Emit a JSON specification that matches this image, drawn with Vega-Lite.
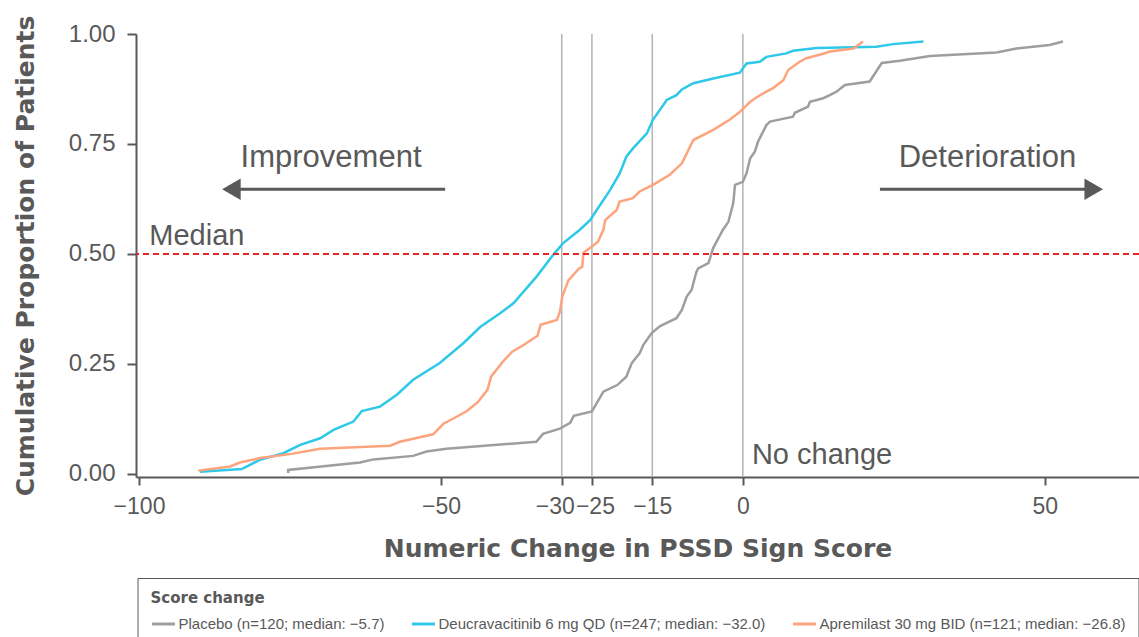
{
  "$schema": "https://vega.github.io/schema/vega-lite/v6.json",
  "width": 1003,
  "height": 443,
  "autosize": {"type": "none"},
  "padding": {"left": 136, "top": 34, "right": 0, "bottom": 160},
  "background": "white",
  "config": {
    "view": {"stroke": null},
    "axis": {
      "grid": false,
      "domainColor": "#595959",
      "domainWidth": 2,
      "tickColor": "#595959",
      "tickWidth": 2,
      "labelFont": "Liberation Sans",
      "labelFontSize": 24,
      "labelColor": "#595959",
      "labelFlush": false,
      "labelOverlap": false,
      "titleFont": "DejaVu Sans",
      "titleFontWeight": "bold",
      "titleFontSize": 25,
      "titleColor": "#595959"
    },
    "axisX": {
      "tickSize": 8,
      "labelPadding": 10,
      "titlePadding": 18,
      "labelFontSize": 23,
      "labelOffset": {"condition": [{"test": "datum.value == -30", "value": -7}, {"test": "datum.value == -25", "value": 3}], "value": 0}
    },
    "axisY": {"tickSize": 9, "labelPadding": 12, "titlePadding": 30}
  },
  "datasets": {
    "vlines": [{"x": -30}, {"x": -25}, {"x": -15}, {"x": 0}],
    "median": [{"y": 0.5}],
    "arrows": [
      {"dir": "Improvement", "x": -49.3, "x2": -84.7, "y": 0.647},
      {"dir": "Deterioration", "x": 22.7, "x2": 58.1, "y": 0.647}
    ],
    "bigtext": [
      {"text": "Improvement", "x": -68.2, "y": 0.698},
      {"text": "Deterioration", "x": 40.5, "y": 0.698}
    ],
    "smalltext": [
      {"text": "Median", "x": -98.3, "y": 0.52},
      {"text": "No change", "x": 1.5, "y": 0.023}
    ],
    "curves": [
      {"s": "Placebo (n=120; median: −5.7)", "i": 0, "x": -75.3, "y": 0.002},
      {"s": "Placebo (n=120; median: −5.7)", "i": 1, "x": -75.3, "y": 0.009},
      {"s": "Placebo (n=120; median: −5.7)", "i": 2, "x": -63.4, "y": 0.026},
      {"s": "Placebo (n=120; median: −5.7)", "i": 3, "x": -61.2, "y": 0.033},
      {"s": "Placebo (n=120; median: −5.7)", "i": 4, "x": -54.6, "y": 0.041},
      {"s": "Placebo (n=120; median: −5.7)", "i": 5, "x": -52.4, "y": 0.051},
      {"s": "Placebo (n=120; median: −5.7)", "i": 6, "x": -49.1, "y": 0.057},
      {"s": "Placebo (n=120; median: −5.7)", "i": 7, "x": -34.2, "y": 0.073},
      {"s": "Placebo (n=120; median: −5.7)", "i": 8, "x": -33.1, "y": 0.091},
      {"s": "Placebo (n=120; median: −5.7)", "i": 9, "x": -30.3, "y": 0.103},
      {"s": "Placebo (n=120; median: −5.7)", "i": 10, "x": -28.6, "y": 0.116},
      {"s": "Placebo (n=120; median: −5.7)", "i": 11, "x": -28.0, "y": 0.132},
      {"s": "Placebo (n=120; median: −5.7)", "i": 12, "x": -25.0, "y": 0.142},
      {"s": "Placebo (n=120; median: −5.7)", "i": 13, "x": -24.2, "y": 0.161},
      {"s": "Placebo (n=120; median: −5.7)", "i": 14, "x": -23.1, "y": 0.187},
      {"s": "Placebo (n=120; median: −5.7)", "i": 15, "x": -20.8, "y": 0.202},
      {"s": "Placebo (n=120; median: −5.7)", "i": 16, "x": -19.3, "y": 0.221},
      {"s": "Placebo (n=120; median: −5.7)", "i": 17, "x": -18.4, "y": 0.252},
      {"s": "Placebo (n=120; median: −5.7)", "i": 18, "x": -17.1, "y": 0.274},
      {"s": "Placebo (n=120; median: −5.7)", "i": 19, "x": -16.5, "y": 0.293},
      {"s": "Placebo (n=120; median: −5.7)", "i": 20, "x": -15.1, "y": 0.320},
      {"s": "Placebo (n=120; median: −5.7)", "i": 21, "x": -13.7, "y": 0.336},
      {"s": "Placebo (n=120; median: −5.7)", "i": 22, "x": -11.0, "y": 0.354},
      {"s": "Placebo (n=120; median: −5.7)", "i": 23, "x": -10.1, "y": 0.373},
      {"s": "Placebo (n=120; median: −5.7)", "i": 24, "x": -9.3, "y": 0.403},
      {"s": "Placebo (n=120; median: −5.7)", "i": 25, "x": -8.5, "y": 0.418},
      {"s": "Placebo (n=120; median: −5.7)", "i": 26, "x": -7.7, "y": 0.459},
      {"s": "Placebo (n=120; median: −5.7)", "i": 27, "x": -7.4, "y": 0.467},
      {"s": "Placebo (n=120; median: −5.7)", "i": 28, "x": -5.7, "y": 0.479},
      {"s": "Placebo (n=120; median: −5.7)", "i": 29, "x": -4.9, "y": 0.514},
      {"s": "Placebo (n=120; median: −5.7)", "i": 30, "x": -3.3, "y": 0.555},
      {"s": "Placebo (n=120; median: −5.7)", "i": 31, "x": -2.4, "y": 0.573},
      {"s": "Placebo (n=120; median: −5.7)", "i": 32, "x": -1.6, "y": 0.615},
      {"s": "Placebo (n=120; median: −5.7)", "i": 33, "x": -1.3, "y": 0.657},
      {"s": "Placebo (n=120; median: −5.7)", "i": 34, "x": 0.0, "y": 0.664},
      {"s": "Placebo (n=120; median: −5.7)", "i": 35, "x": 0.6, "y": 0.683},
      {"s": "Placebo (n=120; median: −5.7)", "i": 36, "x": 1.2, "y": 0.717},
      {"s": "Placebo (n=120; median: −5.7)", "i": 37, "x": 2.0, "y": 0.733},
      {"s": "Placebo (n=120; median: −5.7)", "i": 38, "x": 2.5, "y": 0.755},
      {"s": "Placebo (n=120; median: −5.7)", "i": 39, "x": 3.9, "y": 0.793},
      {"s": "Placebo (n=120; median: −5.7)", "i": 40, "x": 4.5, "y": 0.801},
      {"s": "Placebo (n=120; median: −5.7)", "i": 41, "x": 8.3, "y": 0.812},
      {"s": "Placebo (n=120; median: −5.7)", "i": 42, "x": 8.6, "y": 0.821},
      {"s": "Placebo (n=120; median: −5.7)", "i": 43, "x": 10.8, "y": 0.835},
      {"s": "Placebo (n=120; median: −5.7)", "i": 44, "x": 11.1, "y": 0.846},
      {"s": "Placebo (n=120; median: −5.7)", "i": 45, "x": 13.3, "y": 0.854},
      {"s": "Placebo (n=120; median: −5.7)", "i": 46, "x": 14.4, "y": 0.861},
      {"s": "Placebo (n=120; median: −5.7)", "i": 47, "x": 15.5, "y": 0.869},
      {"s": "Placebo (n=120; median: −5.7)", "i": 48, "x": 16.9, "y": 0.884},
      {"s": "Placebo (n=120; median: −5.7)", "i": 49, "x": 21.0, "y": 0.892},
      {"s": "Placebo (n=120; median: −5.7)", "i": 50, "x": 23.0, "y": 0.934},
      {"s": "Placebo (n=120; median: −5.7)", "i": 51, "x": 26.0, "y": 0.939},
      {"s": "Placebo (n=120; median: −5.7)", "i": 52, "x": 31.0, "y": 0.950},
      {"s": "Placebo (n=120; median: −5.7)", "i": 53, "x": 42.0, "y": 0.958},
      {"s": "Placebo (n=120; median: −5.7)", "i": 54, "x": 45.3, "y": 0.967},
      {"s": "Placebo (n=120; median: −5.7)", "i": 55, "x": 50.8, "y": 0.975},
      {"s": "Placebo (n=120; median: −5.7)", "i": 56, "x": 53.0, "y": 0.983},

      {"s": "Deucravacitinib 6 mg QD (n=247; median: −32.0)", "i": 0, "x": -89.9, "y": 0.005},
      {"s": "Deucravacitinib 6 mg QD (n=247; median: −32.0)", "i": 1, "x": -83.0, "y": 0.011},
      {"s": "Deucravacitinib 6 mg QD (n=247; median: −32.0)", "i": 2, "x": -80.0, "y": 0.032},
      {"s": "Deucravacitinib 6 mg QD (n=247; median: −32.0)", "i": 3, "x": -76.1, "y": 0.047},
      {"s": "Deucravacitinib 6 mg QD (n=247; median: −32.0)", "i": 4, "x": -73.3, "y": 0.066},
      {"s": "Deucravacitinib 6 mg QD (n=247; median: −32.0)", "i": 5, "x": -70.0, "y": 0.081},
      {"s": "Deucravacitinib 6 mg QD (n=247; median: −32.0)", "i": 6, "x": -67.8, "y": 0.100},
      {"s": "Deucravacitinib 6 mg QD (n=247; median: −32.0)", "i": 7, "x": -64.5, "y": 0.119},
      {"s": "Deucravacitinib 6 mg QD (n=247; median: −32.0)", "i": 8, "x": -63.1, "y": 0.143},
      {"s": "Deucravacitinib 6 mg QD (n=247; median: −32.0)", "i": 9, "x": -60.1, "y": 0.153},
      {"s": "Deucravacitinib 6 mg QD (n=247; median: −32.0)", "i": 10, "x": -57.3, "y": 0.180},
      {"s": "Deucravacitinib 6 mg QD (n=247; median: −32.0)", "i": 11, "x": -54.6, "y": 0.214},
      {"s": "Deucravacitinib 6 mg QD (n=247; median: −32.0)", "i": 12, "x": -50.2, "y": 0.252},
      {"s": "Deucravacitinib 6 mg QD (n=247; median: −32.0)", "i": 13, "x": -46.3, "y": 0.297},
      {"s": "Deucravacitinib 6 mg QD (n=247; median: −32.0)", "i": 14, "x": -43.5, "y": 0.334},
      {"s": "Deucravacitinib 6 mg QD (n=247; median: −32.0)", "i": 15, "x": -40.2, "y": 0.365},
      {"s": "Deucravacitinib 6 mg QD (n=247; median: −32.0)", "i": 16, "x": -38.0, "y": 0.388},
      {"s": "Deucravacitinib 6 mg QD (n=247; median: −32.0)", "i": 17, "x": -34.2, "y": 0.448},
      {"s": "Deucravacitinib 6 mg QD (n=247; median: −32.0)", "i": 18, "x": -31.4, "y": 0.498},
      {"s": "Deucravacitinib 6 mg QD (n=247; median: −32.0)", "i": 19, "x": -29.8, "y": 0.524},
      {"s": "Deucravacitinib 6 mg QD (n=247; median: −32.0)", "i": 20, "x": -27.0, "y": 0.555},
      {"s": "Deucravacitinib 6 mg QD (n=247; median: −32.0)", "i": 21, "x": -25.3, "y": 0.577},
      {"s": "Deucravacitinib 6 mg QD (n=247; median: −32.0)", "i": 22, "x": -24.2, "y": 0.600},
      {"s": "Deucravacitinib 6 mg QD (n=247; median: −32.0)", "i": 23, "x": -22.0, "y": 0.645},
      {"s": "Deucravacitinib 6 mg QD (n=247; median: −32.0)", "i": 24, "x": -20.4, "y": 0.683},
      {"s": "Deucravacitinib 6 mg QD (n=247; median: −32.0)", "i": 25, "x": -19.3, "y": 0.721},
      {"s": "Deucravacitinib 6 mg QD (n=247; median: −32.0)", "i": 26, "x": -18.2, "y": 0.740},
      {"s": "Deucravacitinib 6 mg QD (n=247; median: −32.0)", "i": 27, "x": -15.9, "y": 0.774},
      {"s": "Deucravacitinib 6 mg QD (n=247; median: −32.0)", "i": 28, "x": -14.9, "y": 0.805},
      {"s": "Deucravacitinib 6 mg QD (n=247; median: −32.0)", "i": 29, "x": -12.6, "y": 0.850},
      {"s": "Deucravacitinib 6 mg QD (n=247; median: −32.0)", "i": 30, "x": -11.0, "y": 0.861},
      {"s": "Deucravacitinib 6 mg QD (n=247; median: −32.0)", "i": 31, "x": -10.1, "y": 0.874},
      {"s": "Deucravacitinib 6 mg QD (n=247; median: −32.0)", "i": 32, "x": -8.2, "y": 0.888},
      {"s": "Deucravacitinib 6 mg QD (n=247; median: −32.0)", "i": 33, "x": -4.9, "y": 0.899},
      {"s": "Deucravacitinib 6 mg QD (n=247; median: −32.0)", "i": 34, "x": -0.5, "y": 0.912},
      {"s": "Deucravacitinib 6 mg QD (n=247; median: −32.0)", "i": 35, "x": 0.6, "y": 0.933},
      {"s": "Deucravacitinib 6 mg QD (n=247; median: −32.0)", "i": 36, "x": 2.8, "y": 0.937},
      {"s": "Deucravacitinib 6 mg QD (n=247; median: −32.0)", "i": 37, "x": 3.9, "y": 0.948},
      {"s": "Deucravacitinib 6 mg QD (n=247; median: −32.0)", "i": 38, "x": 7.2, "y": 0.956},
      {"s": "Deucravacitinib 6 mg QD (n=247; median: −32.0)", "i": 39, "x": 8.3, "y": 0.962},
      {"s": "Deucravacitinib 6 mg QD (n=247; median: −32.0)", "i": 40, "x": 12.2, "y": 0.968},
      {"s": "Deucravacitinib 6 mg QD (n=247; median: −32.0)", "i": 41, "x": 18.3, "y": 0.970},
      {"s": "Deucravacitinib 6 mg QD (n=247; median: −32.0)", "i": 42, "x": 22.1, "y": 0.971},
      {"s": "Deucravacitinib 6 mg QD (n=247; median: −32.0)", "i": 43, "x": 24.9, "y": 0.977},
      {"s": "Deucravacitinib 6 mg QD (n=247; median: −32.0)", "i": 44, "x": 29.9, "y": 0.983},

      {"s": "Apremilast 30 mg BID (n=121; median: −26.8)", "i": 0, "x": -90.2, "y": 0.0075},
      {"s": "Apremilast 30 mg BID (n=121; median: −26.8)", "i": 1, "x": -84.9, "y": 0.017},
      {"s": "Apremilast 30 mg BID (n=121; median: −26.8)", "i": 2, "x": -83.3, "y": 0.026},
      {"s": "Apremilast 30 mg BID (n=121; median: −26.8)", "i": 3, "x": -80.0, "y": 0.036},
      {"s": "Apremilast 30 mg BID (n=121; median: −26.8)", "i": 4, "x": -75.0, "y": 0.045},
      {"s": "Apremilast 30 mg BID (n=121; median: −26.8)", "i": 5, "x": -70.0, "y": 0.057},
      {"s": "Apremilast 30 mg BID (n=121; median: −26.8)", "i": 6, "x": -58.4, "y": 0.064},
      {"s": "Apremilast 30 mg BID (n=121; median: −26.8)", "i": 7, "x": -56.8, "y": 0.073},
      {"s": "Apremilast 30 mg BID (n=121; median: −26.8)", "i": 8, "x": -51.3, "y": 0.090},
      {"s": "Apremilast 30 mg BID (n=121; median: −26.8)", "i": 9, "x": -49.6, "y": 0.114},
      {"s": "Apremilast 30 mg BID (n=121; median: −26.8)", "i": 10, "x": -47.4, "y": 0.130},
      {"s": "Apremilast 30 mg BID (n=121; median: −26.8)", "i": 11, "x": -45.7, "y": 0.143},
      {"s": "Apremilast 30 mg BID (n=121; median: −26.8)", "i": 12, "x": -43.9, "y": 0.163},
      {"s": "Apremilast 30 mg BID (n=121; median: −26.8)", "i": 13, "x": -42.3, "y": 0.191},
      {"s": "Apremilast 30 mg BID (n=121; median: −26.8)", "i": 14, "x": -41.7, "y": 0.221},
      {"s": "Apremilast 30 mg BID (n=121; median: −26.8)", "i": 15, "x": -39.7, "y": 0.256},
      {"s": "Apremilast 30 mg BID (n=121; median: −26.8)", "i": 16, "x": -38.2, "y": 0.278},
      {"s": "Apremilast 30 mg BID (n=121; median: −26.8)", "i": 17, "x": -36.3, "y": 0.293},
      {"s": "Apremilast 30 mg BID (n=121; median: −26.8)", "i": 18, "x": -34.0, "y": 0.314},
      {"s": "Apremilast 30 mg BID (n=121; median: −26.8)", "i": 19, "x": -33.5, "y": 0.339},
      {"s": "Apremilast 30 mg BID (n=121; median: −26.8)", "i": 20, "x": -30.8, "y": 0.350},
      {"s": "Apremilast 30 mg BID (n=121; median: −26.8)", "i": 21, "x": -30.3, "y": 0.369},
      {"s": "Apremilast 30 mg BID (n=121; median: −26.8)", "i": 22, "x": -29.9, "y": 0.403},
      {"s": "Apremilast 30 mg BID (n=121; median: −26.8)", "i": 23, "x": -28.9, "y": 0.440},
      {"s": "Apremilast 30 mg BID (n=121; median: −26.8)", "i": 24, "x": -27.2, "y": 0.466},
      {"s": "Apremilast 30 mg BID (n=121; median: −26.8)", "i": 25, "x": -26.6, "y": 0.471},
      {"s": "Apremilast 30 mg BID (n=121; median: −26.8)", "i": 26, "x": -26.4, "y": 0.503},
      {"s": "Apremilast 30 mg BID (n=121; median: −26.8)", "i": 27, "x": -25.1, "y": 0.516},
      {"s": "Apremilast 30 mg BID (n=121; median: −26.8)", "i": 28, "x": -24.0, "y": 0.528},
      {"s": "Apremilast 30 mg BID (n=121; median: −26.8)", "i": 29, "x": -23.1, "y": 0.555},
      {"s": "Apremilast 30 mg BID (n=121; median: −26.8)", "i": 30, "x": -22.8, "y": 0.577},
      {"s": "Apremilast 30 mg BID (n=121; median: −26.8)", "i": 31, "x": -20.9, "y": 0.600},
      {"s": "Apremilast 30 mg BID (n=121; median: −26.8)", "i": 32, "x": -20.4, "y": 0.619},
      {"s": "Apremilast 30 mg BID (n=121; median: −26.8)", "i": 33, "x": -18.2, "y": 0.627},
      {"s": "Apremilast 30 mg BID (n=121; median: −26.8)", "i": 34, "x": -17.1, "y": 0.642},
      {"s": "Apremilast 30 mg BID (n=121; median: −26.8)", "i": 35, "x": -14.9, "y": 0.657},
      {"s": "Apremilast 30 mg BID (n=121; median: −26.8)", "i": 36, "x": -12.1, "y": 0.680},
      {"s": "Apremilast 30 mg BID (n=121; median: −26.8)", "i": 37, "x": -10.1, "y": 0.706},
      {"s": "Apremilast 30 mg BID (n=121; median: −26.8)", "i": 38, "x": -8.2, "y": 0.759},
      {"s": "Apremilast 30 mg BID (n=121; median: −26.8)", "i": 39, "x": -4.9, "y": 0.782},
      {"s": "Apremilast 30 mg BID (n=121; median: −26.8)", "i": 40, "x": -2.2, "y": 0.805},
      {"s": "Apremilast 30 mg BID (n=121; median: −26.8)", "i": 41, "x": -0.5, "y": 0.823},
      {"s": "Apremilast 30 mg BID (n=121; median: −26.8)", "i": 42, "x": 1.2, "y": 0.846},
      {"s": "Apremilast 30 mg BID (n=121; median: −26.8)", "i": 43, "x": 2.5, "y": 0.858},
      {"s": "Apremilast 30 mg BID (n=121; median: −26.8)", "i": 44, "x": 3.9, "y": 0.869},
      {"s": "Apremilast 30 mg BID (n=121; median: −26.8)", "i": 45, "x": 5.0, "y": 0.877},
      {"s": "Apremilast 30 mg BID (n=121; median: −26.8)", "i": 46, "x": 6.7, "y": 0.895},
      {"s": "Apremilast 30 mg BID (n=121; median: −26.8)", "i": 47, "x": 7.5, "y": 0.918},
      {"s": "Apremilast 30 mg BID (n=121; median: −26.8)", "i": 48, "x": 9.4, "y": 0.937},
      {"s": "Apremilast 30 mg BID (n=121; median: −26.8)", "i": 49, "x": 10.5, "y": 0.945},
      {"s": "Apremilast 30 mg BID (n=121; median: −26.8)", "i": 50, "x": 13.3, "y": 0.955},
      {"s": "Apremilast 30 mg BID (n=121; median: −26.8)", "i": 51, "x": 14.4, "y": 0.960},
      {"s": "Apremilast 30 mg BID (n=121; median: −26.8)", "i": 52, "x": 18.3, "y": 0.967},
      {"s": "Apremilast 30 mg BID (n=121; median: −26.8)", "i": 53, "x": 19.9, "y": 0.983}
    ]
  },
  "layer": [
    {
      "data": {"name": "vlines"},
      "mark": {"type": "rule", "color": "#b3b3b3", "strokeWidth": 1.5},
      "encoding": {
        "x": {"field": "x", "type": "quantitative", "scale": {"domain": [-100.5, 65.6], "nice": false, "zero": false}, "title": "Numeric Change in PSSD Sign Score", "axis": {"values": [-100, -50, -30, -25, -15, 0, 50], "format": "d"}}
      }
    },
    {
      "data": {"name": "curves"},
      "mark": {"type": "line", "strokeWidth": 2.5, "interpolate": "linear"},
      "encoding": {
        "x": {"field": "x", "type": "quantitative", "scale": {"domain": [-100.5, 65.6], "nice": false, "zero": false}, "title": "Numeric Change in PSSD Sign Score", "axis": {"values": [-100, -50, -30, -25, -15, 0, 50], "format": "d"}},
        "y": {"field": "y", "type": "quantitative", "scale": {"domain": [-0.007, 1.0], "nice": false, "zero": false}, "title": "Cumulative Proportion of Patients", "axis": {"values": [0, 0.25, 0.5, 0.75, 1], "format": ".2f"}},
        "order": {"field": "i", "type": "quantitative"},
        "color": {
          "field": "s",
          "type": "nominal",
          "scale": {
            "domain": ["Placebo (n=120; median: −5.7)", "Deucravacitinib 6 mg QD (n=247; median: −32.0)", "Apremilast 30 mg BID (n=121; median: −26.8)"],
            "range": ["#a09d9d", "#2ec9e8", "#fda47c"]
          },
          "legend": {
            "orient": "none",
            "legendX": 1.5,
            "legendY": 544,
            "direction": "horizontal",
            "columns": 3,
            "title": "Score change",
            "titleFont": "DejaVu Sans",
            "titleFontWeight": "bold",
            "titleFontSize": 15,
            "titleColor": "#595959",
            "titlePadding": 5,
            "labelFont": "Liberation Sans",
            "labelFontSize": 15,
            "labelColor": "#595959",
            "labelLimit": 0,
            "symbolType": "stroke",
            "symbolSize": 529,
            "symbolStrokeWidth": 3,
            "labelOffset": 2,
            "columnPadding": 21,
            "padding": 13,
            "strokeColor": "#595959",
            "fillColor": "white"
          }
        }
      }
    },
    {
      "data": {"name": "median"},
      "mark": {"type": "rule", "color": "#e8242b", "strokeWidth": 2, "strokeDash": [6, 4]},
      "encoding": {
        "y": {"field": "y", "type": "quantitative", "scale": {"domain": [-0.007, 1.0], "nice": false, "zero": false}, "title": "Cumulative Proportion of Patients", "axis": {"values": [0, 0.25, 0.5, 0.75, 1], "format": ".2f"}}
      }
    },
    {
      "data": {"name": "arrows"},
      "mark": {"type": "rule", "color": "#595959", "strokeWidth": 3},
      "encoding": {
        "x": {"field": "x", "type": "quantitative", "title": "Numeric Change in PSSD Sign Score"},
        "x2": {"field": "x2"},
        "y": {"field": "y", "type": "quantitative", "title": "Cumulative Proportion of Patients"}
      }
    },
    {
      "data": {"name": "arrows"},
      "transform": [{"filter": "datum.dir == 'Improvement'"}],
      "mark": {"type": "point", "shape": "triangle-left", "filled": true, "color": "#595959", "size": 460, "opacity": 1},
      "encoding": {
        "x": {"field": "x2", "type": "quantitative", "title": "Numeric Change in PSSD Sign Score"},
        "y": {"field": "y", "type": "quantitative", "title": "Cumulative Proportion of Patients"}
      }
    },
    {
      "data": {"name": "arrows"},
      "transform": [{"filter": "datum.dir == 'Deterioration'"}],
      "mark": {"type": "point", "shape": "triangle-right", "filled": true, "color": "#595959", "size": 460, "opacity": 1},
      "encoding": {
        "x": {"field": "x2", "type": "quantitative", "title": "Numeric Change in PSSD Sign Score"},
        "y": {"field": "y", "type": "quantitative", "title": "Cumulative Proportion of Patients"}
      }
    },
    {
      "data": {"name": "bigtext"},
      "mark": {"type": "text", "font": "Liberation Sans", "fontSize": 31, "color": "#595959", "align": "center", "baseline": "alphabetic"},
      "encoding": {
        "x": {"field": "x", "type": "quantitative", "title": "Numeric Change in PSSD Sign Score"},
        "y": {"field": "y", "type": "quantitative", "title": "Cumulative Proportion of Patients"},
        "text": {"field": "text"}
      }
    },
    {
      "data": {"name": "smalltext"},
      "mark": {"type": "text", "font": "Liberation Sans", "fontSize": 29, "color": "#595959", "align": "left", "baseline": "alphabetic"},
      "encoding": {
        "x": {"field": "x", "type": "quantitative", "title": "Numeric Change in PSSD Sign Score"},
        "y": {"field": "y", "type": "quantitative", "title": "Cumulative Proportion of Patients"},
        "text": {"field": "text"}
      }
    }
  ]
}
